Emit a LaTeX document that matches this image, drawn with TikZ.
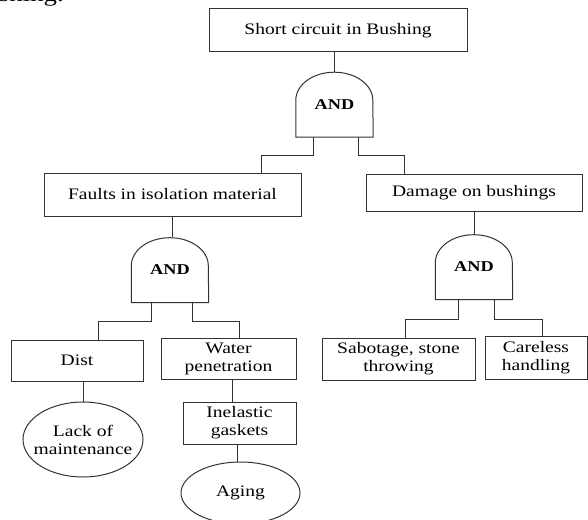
\documentclass[tikz,border=0pt]{standalone}
\usepackage{fontspec}
\setmainfont{Liberation Serif}[FakeStretch=1.22]
\usetikzlibrary{shapes.geometric,calc}
\tikzset{
  ln/.style={line width=1pt, draw=black!80},
  evbox/.style={ln, draw, rectangle, inner sep=0pt, align=center, font=\fontsize{16}{18}\selectfont},
  evell/.style={ln, draw, ellipse, inner sep=0pt, align=center, font=\fontsize{16}{18}\selectfont},
  andgate/.style={rectangle, inner sep=0pt, minimum width=77pt, minimum height=65pt, font=\fontsize{15}{17}\selectfont\bfseries},
}
\newcommand{\gateoutline}[1]{%
  \draw[ln] (#1.south west) -- ++(0,-37) arc[start angle=180, end angle=0, x radius=38.5pt, y radius=28pt] -- (#1.south east) -- cycle;}
\begin{document}
\begin{tikzpicture}[x=1pt,y=-1pt]
\useasboundingbox (0,0) rectangle (588,519);
\clip (0,0) rectangle (588,519);
\node[anchor=base east, inner sep=0pt, font=\fontsize{22}{24}\selectfont] (frag) at (64,2) {shing.};

\node[evbox, minimum width=258pt, minimum height=43pt] (top) at (338,30.5) {Short circuit in Bushing};
\node[andgate] (g1) at (334.5,104.5) {AND};
\gateoutline{g1}

\node[evbox, minimum width=257pt, minimum height=43pt] (faults) at (172.5,194.5) {Faults in isolation material};
\node[evbox, minimum width=216pt, minimum height=37pt] (damage) at (474,192.5) {Damage on bushings};

\node[andgate] (g2) at (170,270) {AND};
\gateoutline{g2}
\node[andgate] (g3) at (474,267) {AND};
\gateoutline{g3}

\node[evbox, minimum width=132pt, minimum height=41pt] (dist) at (77,360.5) {Dist};
\node[evbox, minimum width=135pt, minimum height=41pt] (water) at (228.5,358.5) {Water\\penetration};
\node[evbox, minimum width=113pt, minimum height=42pt] (inel) at (239.5,423) {Inelastic\\gaskets};
\node[evbox, minimum width=153pt, minimum height=42pt] (sabo) at (398.5,359) {Sabotage, stone\\throwing};
\node[evbox, minimum width=102pt, minimum height=43pt] (care) at (536,357.5) {Careless\\handling};

\node[evell, inner xsep=-7pt, minimum width=120pt, minimum height=75pt] (lack) at (83,439.5) {Lack of\\maintenance};
\node[evell, minimum width=119pt, minimum height=62pt] (aging) at (240.5,493) {Aging};

% connectors
\draw[ln] (g1.north) -- (g1.north |- top.south);
\draw[ln] ([xshift=-21.5pt]g1.south) -- ++(0,18) -| ([xshift=-40pt]faults.north east);
\draw[ln] ([xshift=23.5pt]g1.south) -- ++(0,18) -| ([xshift=39pt]damage.north west);

\draw[ln] (faults.south) -- (faults.south |- g2.north);
\draw[ln] (damage.south) -- (g3.north);

\draw[ln] ([xshift=-19pt]g2.south) -- ++(0,19) -| ([xshift=21pt]dist.north);
\draw[ln] ([xshift=22pt]g2.south) -- ++(0,19) -| ([xshift=10.5pt]water.north);

\draw[ln] ([xshift=-16pt]g3.south) -- ++(0,20) -| ([xshift=6.5pt]sabo.north);
\draw[ln] ([xshift=20pt]g3.south) -- ++(0,20) -| ([xshift=6pt]care.north);

\draw[ln] (lack.north) -- (lack.north |- dist.south);
\draw[ln] ([xshift=3.5pt]water.south) -- ([xshift=3.5pt]water.south |- inel.north);
\draw[ln] ([xshift=-2.5pt]inel.south) -- ([xshift=-2.5pt]inel.south |- aging.north);
\end{tikzpicture}
\end{document}
